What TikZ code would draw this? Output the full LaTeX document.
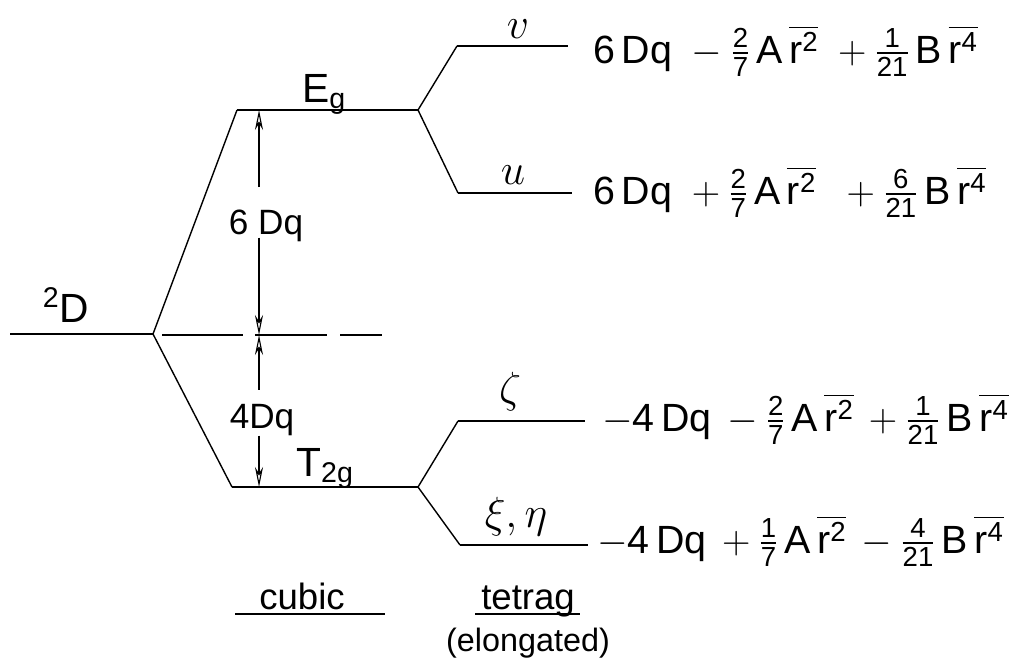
\RequirePackage{fix-cm}
\documentclass[tikz,border=0pt]{standalone}
\usepackage{amsmath}
\usepackage{fontspec}
\setmainfont{Liberation Sans}
\usetikzlibrary{positioning,arrows.meta}
\newcommand{\hfr}[2]{\frac{\text{#1}}{\text{#2}}}
\newcommand{\rbar}[1]{\overline{\text{r}^{\text{#1}}}}
\tikzset{
  level/.style={line width=1.1pt},
  split/.style={line width=1pt},
  dimarrow/.style={line width=0.8pt,-{Stealth[open,length=5mm,width=2mm]}},
  term/.style={font=\fontsize{28}{32}\selectfont,anchor=base west,inner sep=0pt},
  statelbl/.style={font=\fontsize{29}{33}\selectfont,inner sep=1pt},
  greeklbl/.style={font=\fontsize{31}{35}\selectfont,inner sep=1pt,anchor=base},
  gaplbl/.style={font=\fontsize{25}{29}\selectfont,inner sep=0pt},
  caption/.style={font=\fontsize{26}{30}\selectfont,inner sep=1pt}
}
\begin{document}
\begin{tikzpicture}[x=0.025cm,y=-0.025cm]
  \useasboundingbox (0,0) rectangle (1017,671);
  % cubic field
  \coordinate (free) at (10,334);
  \coordinate (apex) at (153,334);
  \coordinate (egL) at (237,110);
  \coordinate (egR) at (418,110);
  \coordinate (tgL) at (232,487);
  \coordinate (tgR) at (418,487);
  \coordinate (dashL) at (162,335);
  \coordinate (dashR) at (382,335);
  \coordinate (egM) at (259,110);
  \coordinate (cM) at (259,335);
  \coordinate (tgM) at (259,487);
  % tetragonal field
  \coordinate (vL) at (457,46);
  \coordinate (vR) at (568,46);
  \coordinate (uL) at (458,193);
  \coordinate (uR) at (572,193);
  \coordinate (zL) at (458,421);
  \coordinate (zR) at (585,421);
  \coordinate (xL) at (460,545);
  \coordinate (xR) at (588,545);

  \draw[level] (free) -- (apex);
  \draw[split] (apex) -- (egL);
  \draw[split] (apex) -- (tgL);
  \draw[level] (egL) -- (egR);
  \draw[level] (tgL) -- (tgR);
  \draw[level,dash pattern=on 2.02cm off 0.3cm on 1.8cm off 0.33cm on 1.05cm] (dashL) -- (dashR);

  \draw[split] (egR) -- (vL);
  \draw[split] (egR) -- (uL);
  \draw[split] (tgR) -- (zL);
  \draw[split] (tgR) -- (xL);
  \draw[level] (vL) -- (vR);
  \draw[level] (uL) -- (uR);
  \draw[level] (zL) -- (zR);
  \draw[level] (xL) -- (xR);

  % labels
  \node[statelbl] (dlbl) at (66,305) {\textsuperscript{2}D};
  \node[statelbl,anchor=base] (eglbl) at (324,102) {E\textsubscript{g}};
  \node[statelbl,anchor=base] (tglbl) at (325,476) {T\textsubscript{2g}};
  \node[gaplbl,anchor=base] (sixdq) at (266,234) {6 Dq};
  \node[gaplbl,anchor=base] (fourdq) at (262,428) {4Dq};

  \draw[dimarrow] ([yshift=0.55cm]sixdq.north -| egM) -- (egM);
  \draw[dimarrow] ([yshift=0.1cm]sixdq.south -| cM) -- (cM);
  \draw[dimarrow] ([yshift=0.35cm]fourdq.north -| cM) -- (cM);
  \draw[dimarrow] (fourdq.south -| tgM) -- (tgM);

  \node[greeklbl] (vlbl) at (518,38) {$v$};
  \node[greeklbl] (ulbl) at (513,184) {$u$};
  \node[greeklbl] (zlbl) at (510,402) {$\zeta$};
  \node[greeklbl] (xlbl) at (516,527) {$\xi,\eta$};

  \node[term] (vterm) at (593,63) {$\text{6\,Dq}\;-\hfr{2}{7}\,\text{A}\,\rbar{2}\;+\hfr{1}{21}\,\text{B}\,\rbar{4}$};
  \node[term] (uterm) at (593,204) {$\text{6\,Dq}\;+\hfr{2}{7}\,\text{A}\,\rbar{2}\;\;+\hfr{6}{21}\,\text{B}\,\rbar{4}$};
  \node[term] (zterm) at (602,431) {$-\text{4\,Dq}\,-\hfr{2}{7}\,\text{A}\,\rbar{2}\,+\hfr{1}{21}\,\text{B}\,\rbar{4}$};
  \node[term] (xterm) at (597,553) {$-\text{4\,Dq}\,+\hfr{1}{7}\,\text{A}\,\rbar{2}\,-\hfr{4}{21}\,\text{B}\,\rbar{4}$};

  % bottom captions
  \node[caption,anchor=base] (cubic) at (302,609) {cubic};
  \node[caption,anchor=base] (tetrag) at (528,609) {tetrag};
  \node[caption,below=0.2cm of tetrag,font=\fontsize{23}{27}\selectfont] (elong) {(elongated)};
  \draw[level] (235,614) -- (385,614);
  \draw[level] (475,614) -- (580,614);
\end{tikzpicture}
\end{document}
